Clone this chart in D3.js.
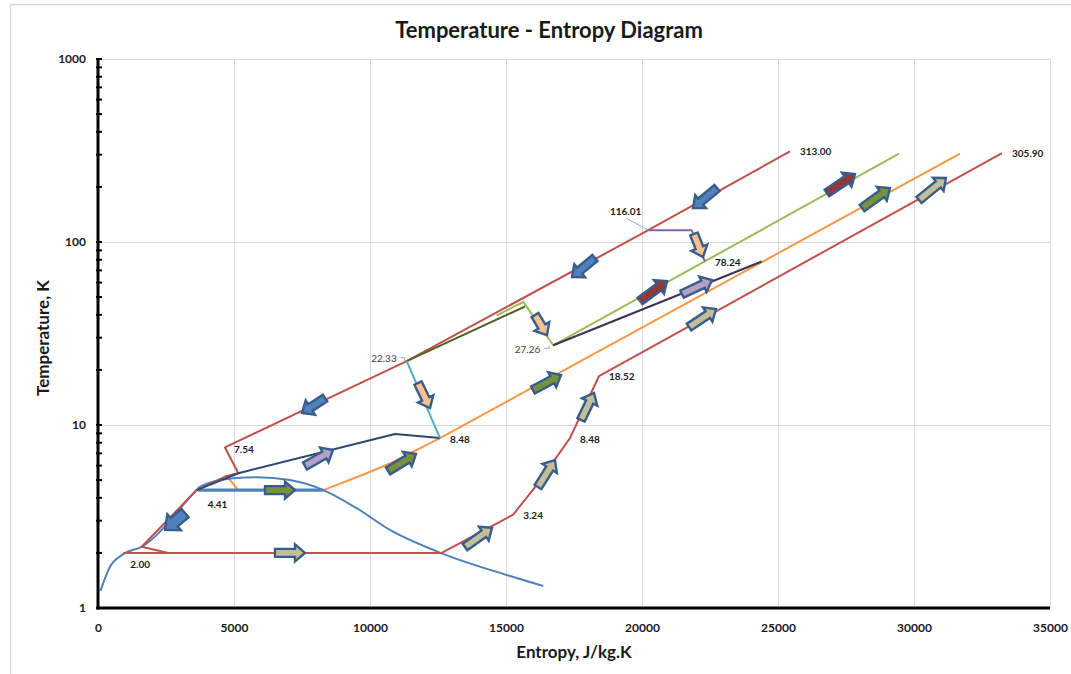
<!DOCTYPE html>
<html>
<head>
<meta charset="utf-8">
<script src="https://cdn.jsdelivr.net/npm/d3@7"></script>
<style>
body { margin: 0; background: #fff; }
svg text { font-family: Lato, "Open Sans", sans-serif; }
</style>
</head>
<body>
<svg width="1071" height="674"></svg>
<script>
// entropy (J/kg.K), temperature (K) pairs
var domeCurve = [[90,1.24],[441,1.68],[931,1.97],[1605,2.16],[3627,4.41],[3750,4.6],[4975,5.11],[5835,5.18],[7059,5.0],[8283,4.41],[9511,3.51],[10735,2.67],[12636,1.99],[15026,1.515],[16372,1.319]];
var coldStream = [[25441,313.0],[20232,116.01],[11349,22.33],[4669,7.54],[5159,5.45],[4730,5.27],[3627,4.41],[1605,2.16],[2585,2.0]];
var returnStream = [[930,2.0],[12636,2.0],[15264,3.24],[16128,4.70],[17353,8.48],[18419,18.52],[33236,305.9]];
var boilLine = [[3680,4.41],[8283,4.41]];
var navyLine = [[3627,4.41],[5159,5.45],[10919,8.93],[12574,8.48]];
var orangeLine = [[4730,5.27],[5159,4.41],[8283,4.41],[9878,5.45],[10735,6.17],[12574,8.48],[31691,303.6]];
var cyanLine = [[11349,22.33],[12574,8.48]];
var darkGreenLine = [[11349,22.33],[15698,44.4]];
var greenLine = [[14654,39.6],[15637,47.1],[16737,27.26],[29449,303.6]];
var purpleLine = [[20232,116.01],[21824,116.01],[22316,78.24]];
var darkPurpleLine = [[16737,27.26],[24397,78.24]];

var xTicks = [0,5000,10000,15000,20000,25000,30000,35000];
var yTicks = [1,10,100,1000];

var pointLabels = [
  {s:25441, t:313.0, text:"313.00"},
  {s:33236, t:305.9, text:"305.90"},
  {s:20232, t:116.01, text:"116.01"},
  {s:22316, t:78.24, text:"78.24"},
  {s:11349, t:22.33, text:"22.33"},
  {s:16737, t:27.26, text:"27.26"},
  {s:18419, t:18.52, text:"18.52"},
  {s:12574, t:8.48, text:"8.48"},
  {s:17353, t:8.48, text:"8.48"},
  {s:15264, t:3.24, text:"3.24"},
  {s:4669, t:7.54, text:"7.54"},
  {s:3627, t:4.41, text:"4.41"},
  {s:930, t:2.0, text:"2.00"}
];

// flow arrows: tail and tip (s, T), fill
var arrows = [
  {from:[22757,197.3], to:[21875,153.4], fill:"#4f81bd"},
  {from:[18272,81.8], to:[17427,64.4], fill:"#4f81bd"},
  {from:[8346,14.04], to:[7500,11.63], fill:"#4f81bd"},
  {from:[3199,3.30], to:[2463,2.67], fill:"#4f81bd", big:true},
  {from:[6140,4.41], to:[7243,4.41], fill:"#76923c"},
  {from:[10662,5.61], to:[11691,6.94], fill:"#76923c"},
  {from:[15993,15.54], to:[17022,18.77], fill:"#76923c"},
  {from:[28088,153.4], to:[29118,197.3], fill:"#76923c"},
  {from:[7610,5.97], to:[8640,7.30], fill:"#b3a2c7"},
  {from:[21471,51.9], to:[22574,62.0], fill:"#b3a2c7"},
  {from:[6507,2.0], to:[7610,2.0], fill:"#c4bd97"},
  {from:[13493,2.154], to:[14485,2.74], fill:"#c4bd97"},
  {from:[16176,4.58], to:[16801,6.44], fill:"#c4bd97"},
  {from:[17757,10.65], to:[18235,14.96], fill:"#c4bd97"},
  {from:[21728,34.3], to:[22721,43.0], fill:"#c4bd97"},
  {from:[30184,169.6], to:[31176,223.7], fill:"#c4bd97"},
  {from:[19926,47.6], to:[20919,61.2], fill:"#953735"},
  {from:[26801,185.3], to:[27831,235.3], fill:"#953735"},
  {from:[16066,39.9], to:[16507,31.0], fill:"#fac090"},
  {from:[11765,16.96], to:[12206,12.39], fill:"#fac090"},
  {from:[21912,110.6], to:[22243,82.8], fill:"#fac090"}
];

var svg = d3.select("svg");

// chart frame (cropped excel chart area)
svg.append("rect")
    .attr("x", 10.5).attr("y", 4.5)
    .attr("width", 1100).attr("height", 700)
    .style("fill", "white")
    .style("stroke", "#d9d9d9")
    .style("stroke-width", "1.5px");

var x = d3.scaleLinear().domain([0, 35000]).range([98, 1050]);
var y = d3.scaleLog().domain([1, 1000]).range([608, 59]);

// grid
svg.append("g").selectAll("line")
    .data(xTicks.slice(1))
    .enter().append("line")
    .attr("x1", function(d){return x(d) + 0.5;})
    .attr("x2", function(d){return x(d) + 0.5;})
    .attr("y1", y(1000)).attr("y2", y(1))
    .style("stroke", "#d9d9d9").style("stroke-width", "1px");

svg.append("g").selectAll("line")
    .data(yTicks.slice(1))
    .enter().append("line")
    .attr("x1", x(0)).attr("x2", x(35000))
    .attr("y1", function(d){return y(d) + 0.5;})
    .attr("y2", function(d){return y(d) + 0.5;})
    .style("stroke", "#d9d9d9").style("stroke-width", "1px");

// series
var line = d3.line()
    .x(function(d){return x(d[0]);})
    .y(function(d){return y(d[1]);});

var smooth = d3.line()
    .x(function(d){return x(d[0]);})
    .y(function(d){return y(d[1]);})
    .curve(d3.curveMonotoneX);

var drawSeries = function(data, color, width, gen) {
    svg.append("path")
        .datum(data)
        .attr("d", gen || line)
        .style("fill", "none")
        .style("stroke", color)
        .style("stroke-width", width + "px")
        .style("stroke-linejoin", "round");
};

drawSeries(orangeLine, "#f79646", 2);
drawSeries(domeCurve, "#4f81bd", 2, smooth);
drawSeries(boilLine, "#4f81bd", 3.2);
drawSeries(returnStream, "#c0504d", 2);
drawSeries(greenLine, "#9bbb59", 2);
drawSeries(coldStream, "#c0504d", 2);
drawSeries(darkGreenLine, "#4f6228", 2);
drawSeries(navyLine, "#2c4770", 2);
drawSeries(cyanLine, "#4bacc6", 2);
drawSeries(purpleLine, "#8064a2", 2);
drawSeries(darkPurpleLine, "#403152", 2);

// label leader lines
var leaders = [
    {i:2, d:function(px, py){return "M" + (px - 22) + "," + (py - 12) + "L" + px + "," + py;}},
    {i:4, d:function(px, py){return "M" + (px - 6) + "," + (py - 3.5) + "h4v4";}},
    {i:5, d:function(px, py){return "M" + (px - 9) + "," + (py + 3) + "h5v-3";}}
];
leaders.forEach(function(l) {
    var p = pointLabels[l.i];
    svg.append("path")
        .attr("d", l.d(x(p.s), y(p.t)))
        .style("fill", "none")
        .style("stroke", "#a6a6a6")
        .style("stroke-width", "1px");
});

// data labels
var labelOffsets = [[10,0,"start"],[10,0,"start"],[-7,-19,"end"],[10,1,"start"],[-10,-3,"end"],[-13,4,"end"],[10,0,"start"],[10,1,"start"],[10,1,"start"],[10,1,"start"],[9,2,"start"],[11,14,"start"],[7,12,"start"]];

svg.append("g").selectAll("text")
    .data(pointLabels)
    .enter().append("text")
    .attr("x", function(d, i){return x(d.s) + labelOffsets[i][0];})
    .attr("y", function(d, i){return y(d.t) + labelOffsets[i][1];})
    .attr("dy", "0.35em")
    .attr("text-anchor", function(d, i){return labelOffsets[i][2];})
    .style("font-size", "10px")
    .style("font-weight", function(d){return (d.text === "22.33" || d.text === "27.26") ? "normal" : "bold";})
    .style("fill", function(d){return (d.text === "22.33" || d.text === "27.26") ? "#404040" : "#1a1a1a";})
    .text(function(d){return d.text;});

// arrows
var arrowPath = function(a) {
    var x0 = x(a.from[0]), y0 = y(a.from[1]);
    var x1 = x(a.to[0]), y1 = y(a.to[1]);
    var dx = x1 - x0, dy = y1 - y0;
    var len = Math.sqrt(dx*dx + dy*dy);
    var ux = dx/len, uy = dy/len;
    var nx = -uy, ny = ux;
    var w = a.big ? 5.5 : 4, h = a.big ? 10.5 : 8.5, hl = a.big ? 12 : 10;
    var bx = x0 + ux*(len - hl), by = y0 + uy*(len - hl);
    var pts = [
        [x0 + nx*w, y0 + ny*w],
        [bx + nx*w, by + ny*w],
        [bx + nx*h, by + ny*h],
        [x1, y1],
        [bx - nx*h, by - ny*h],
        [bx - nx*w, by - ny*w],
        [x0 - nx*w, y0 - ny*w]
    ];
    return "M" + pts.map(function(p){return p[0].toFixed(1) + "," + p[1].toFixed(1);}).join("L") + "Z";
};

svg.append("g").selectAll("path")
    .data(arrows)
    .enter().append("path")
    .attr("d", arrowPath)
    .style("fill", function(d){return d.fill;})
    .style("stroke", "#385d8a")
    .style("stroke-width", "2.4px")
    .style("stroke-linejoin", "miter");

// axes
var yAxis = d3.axisLeft(y)
    .tickValues(yTicks)
    .tickFormat(d3.format("d"))
    .tickSize(0)
    .tickPadding(12);

var gy = svg.append("g").attr("transform", "translate(" + x(0) + ",0)").call(yAxis);
gy.select(".domain").remove();
gy.selectAll("text")
    .style("font-size", "12px")
    .style("font-weight", "bold")
    .style("fill", "#1a1a1a");

var minor = [];
yTicks.slice(0, 3).forEach(function(dec) {
    for (var k = 1; k < 10; k++) minor.push(dec * k);
});
minor.push(1000);

svg.append("g").selectAll("line")
    .data(minor)
    .enter().append("line")
    .attr("x1", x(0) - 2).attr("x2", x(0) + 4)
    .attr("y1", function(d){return y(d);})
    .attr("y2", function(d){return y(d);})
    .style("stroke", "black")
    .style("stroke-width", "2px");

var xAxis = d3.axisBottom(x)
    .tickValues(xTicks)
    .tickFormat(d3.format("d"))
    .tickSize(0)
    .tickPadding(15);

var gx = svg.append("g").attr("transform", "translate(0," + y(1) + ")").call(xAxis);
gx.select(".domain").remove();
gx.selectAll("text")
    .style("font-size", "12px")
    .style("font-weight", "bold")
    .style("fill", "#1a1a1a");

svg.append("line")
    .attr("x1", x(0)).attr("x2", x(0))
    .attr("y1", y(1000) - 1).attr("y2", y(1) + 1.5)
    .style("stroke", "black").style("stroke-width", "3px");

svg.append("line")
    .attr("x1", x(0) - 1.5).attr("x2", x(35000))
    .attr("y1", y(1)).attr("y2", y(1))
    .style("stroke", "black").style("stroke-width", "3px");

// titles
svg.append("text")
    .attr("x", 549).attr("y", 30)
    .attr("dy", "0.35em")
    .attr("text-anchor", "middle")
    .style("font-size", "22px")
    .style("font-weight", "bold")
    .style("fill", "#1a1a1a")
    .text("Temperature - Entropy Diagram");

svg.append("text")
    .attr("x", 574).attr("y", 652)
    .attr("dy", "0.35em")
    .attr("text-anchor", "middle")
    .style("font-size", "17px")
    .style("font-weight", "bold")
    .style("fill", "#1a1a1a")
    .text("Entropy, J/kg.K");

svg.append("text")
    .attr("transform", "translate(43,338) rotate(-90)")
    .attr("dy", "0.35em")
    .attr("text-anchor", "middle")
    .style("font-size", "17px")
    .style("font-weight", "bold")
    .style("fill", "#1a1a1a")
    .text("Temperature, K");
</script>
</body>
</html>
